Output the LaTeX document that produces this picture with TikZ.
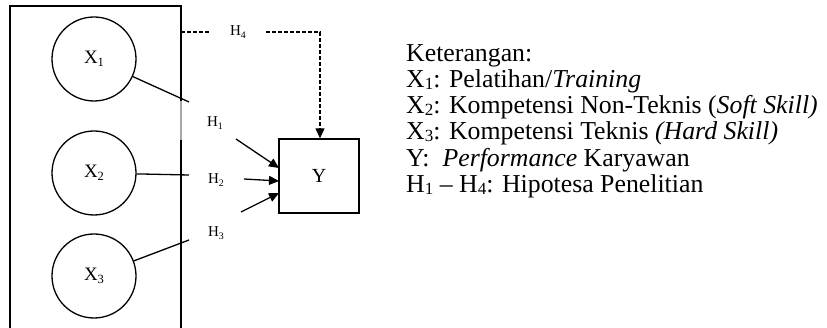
\documentclass[tikz,border=0pt]{standalone}
\usepackage{fontspec}
\setmainfont{Liberation Serif}
\usetikzlibrary{arrows.meta}
\newcommand\lsub[1]{\raisebox{-0.04em}{\scalebox{0.66}{#1}}}
\newcommand\dsub[1]{\raisebox{-0.16em}{\scalebox{0.66}{#1}}}
\tikzset{
  xcircle/.style={draw, circle, line width=1.3pt, minimum size=84pt, inner sep=0pt, font=\fontsize{19}{21}\selectfont},
  hlabel/.style={inner sep=1pt, font=\fontsize{15}{17}\selectfont},
  ybox/.style={draw, line width=1.3pt, minimum width=80pt, minimum height=74pt, inner sep=0pt, font=\fontsize{20}{22}\selectfont},
  conn/.style={line width=1.3pt},
  arr/.style={line width=1.3pt, -{Triangle[length=10pt,width=9pt]}},
  darr/.style={line width=1.2pt, dash pattern=on 4pt off 2pt, -{Triangle[length=10pt,width=9pt]}},
  dline/.style={line width=1.2pt, dash pattern=on 4pt off 2pt},
  legend/.style={anchor=base west, inner sep=0pt, font=\fontsize{25.8}{28}\selectfont},
  frame/.style={line width=1.3pt}
}
\begin{document}
\begin{tikzpicture}[x=1pt,y=-1pt]
\useasboundingbox (0,0) rectangle (827,328);
% frame
\coordinate (fbl) at (10,332);
\coordinate (ftl) at (10,6);
\coordinate (ftr) at (181,6);
\coordinate (fg1) at (181,101);
\coordinate (fg2) at (181,140);
\coordinate (fbr) at (181,332);
\draw[frame] (fbl) -- (ftl) -- (ftr) -- (fg1);
\draw[frame, black!35] (fg1) -- (fg2);
\draw[frame] (fg2) -- (fbr);
% circles
\node[xcircle] (x1) at (94,59) {X\dsub{1}};
\node[xcircle] (x2) at (94,173) {X\dsub{2}};
\node[xcircle] (x3) at (94,276) {X\dsub{3}};
% Y box
\node[ybox] (y) at (319,176) {Y};
% H labels
\node[hlabel] (h1) at (215,123) {H\dsub{1}};
\node[hlabel] (h2) at (216,180) {H\dsub{2}};
\node[hlabel] (h3) at (216,233) {H\dsub{3}};
\node[hlabel] (h4) at (238,32) {H\dsub{4}};
% line ends
\coordinate (e1) at (189,102);
\coordinate (e2) at (189,175);
\coordinate (e3) at (189,240);
\coordinate (s1) at (236,139);
\coordinate (s2) at (244,179);
\coordinate (s3) at (241,212);
\coordinate (t1) at (279,168);
\coordinate (t2) at (279,181);
\coordinate (t3) at (279,193);
\draw[conn] (x1) -- (e1);
\draw[conn] (x2) -- (e2);
\draw[conn] (x3) -- (e3);
\draw[arr] (s1) -- (t1);
\draw[arr] (s2) -- (t2);
\draw[arr] (s3) -- (t3);
% H4 dashed
\coordinate (d1) at (181,32);
\coordinate (d2) at (210,32);
\coordinate (d3) at (266,32);
\coordinate (d4) at (320,32);
\draw[dline] (d1) -- (d2);
\draw[darr] (d3) -- (d4) -- (y.north -| d4);
% legend
\node[legend] (l1) at (406,62) {Keterangan:};
\node[legend] (l2) at (406,88) {X\lsub{1}: Pelatihan/\textit{Training}};
\node[legend] (l3) at (406,114) {X\lsub{2}: Kompetensi Non-Teknis (\textit{Soft Skill)}};
\node[legend] (l4) at (406,140) {X\lsub{3}: Kompetensi Teknis \textit{(Hard Skill)}};
\node[legend] (l5) at (406,167) {Y:\ \ \textit{Performance} Karyawan};
\node[legend] (l6) at (406,193) {H\lsub{1} -- H\lsub{4}: Hipotesa Penelitian};
\end{tikzpicture}
\end{document}
